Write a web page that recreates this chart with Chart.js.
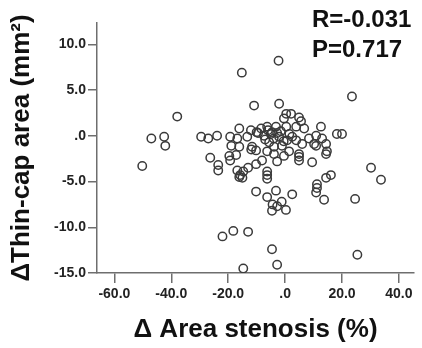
<!DOCTYPE html>
<html>
<head>
<meta charset="utf-8">
<script src="https://cdn.jsdelivr.net/npm/chart.js@4"></script>
<style>
  html, body { margin: 0; padding: 0; background: #fff; }
  #wrap { width: 422px; height: 348px; }
</style>
</head>
<body>
<div id="wrap"><canvas id="scatterChart" width="422" height="348"></canvas></div>
<script>
// Δ area stenosis (%) vs Δ thin-cap area (mm²)
const stenosisDelta = [
  -50.2, -47, -42.5, -42.1, -37.9, -29.5, -27.0, -26.3,
  -15.2, -2.3, 23.5, -10.9, -2.1,
  -23.9, -19.3, -16.1, -16.8, -18.9, -16.1, -13.3, -11.6, -8.4, -7.4, -6.3, -4.6, -3.2, -2.1,
  -0.4, 0.4, 0.4, -5.6, -3.9, -1.1, 0.7, -10.2, -6.3, 2.1, 4.9, 5.6, 3.9, 2.5, 6.7, 12.6,
  8.4, 10.9, 13.0, 14.4, 10.2, 18.2, 20.0, 14.7, 10.9, 6.0, 4.9, 1.4, 3.9,
  -9.5, -5.0, -1.5, -4.0, -7.0, 1.5, -2.8, -6.0, -0.5, -10.0, -12.0,
  -23.5, -23.5, -19.6, -17.2, -19.3, -16.8, -16.1, -14.7, -13.0, -10.2, -8.1, -6.3, -6.3,
  -11.9, -3.9, -2.8, -0.4, -15.0, -15.8, -6.3, 4.9, 14.4, 4.9, 9.5, 30.2, 33.7, 16.1, 14.4,
  11.2, 11.2, 10.9, 13.7, 24.6,
  -10.2, -6.3, -3.2, 2.5, -4.6, -4.4, -1.2, 0.3, -2.8,
  -22.0, -18.2, -13.0, -14.7, -4.6, -2.8, 25.4
];
const thinCapDelta = [
  -3.3, -0.3, -0.1, -1.1, 2.1, -0.1, -0.3, -2.4,
  6.9, 8.2, 4.3, 3.3, 3.5,
  0.0, -0.1, 0.8, -0.3, -1.1, -1.2, -0.1, -1.2, 0.8, 0.0, 1.0, 0.4, 1.0, -0.1,
  1.9, 2.4, 1.0, -0.7, -1.2, -1.1, -0.5, -1.6, -1.7, 2.4, 2.0, 1.6, 1.0, -0.1, 0.8, 1.0,
  -0.3, 0.0, -0.3, -0.9, -0.9, 0.2, 0.2, -1.7, -1.1, -0.9, -2.3, -1.7, -0.5,
  0.3, 0.2, 0.5, -0.3, -0.4, 0.2, 0.3, 0.6, -0.6, 0.4, 0.6,
  -3.2, -3.8, -2.2, -2.1, -2.7, -3.8, -4.5, -3.9, -3.5, -3.1, -2.7, -3.9, -4.7,
  -1.5, -2.0, -2.8, -2.2, -4.6, -4.3, -4.3, -2.0, -2.0, -2.7, -2.9, -3.5, -4.8, -4.3, -4.6,
  -5.3, -5.7, -6.2, -7.0, -6.9,
  -6.1, -6.7, -6.0, -6.4, -8.2, -7.5, -7.2, -8.1, -7.7,
  -11.0, -10.4, -10.5, -14.5, -12.4, -14.1, -13.0
];

const xTickValues = [-60, -40, -20, 0, 20, 40];
const xTickLabels = ["-60.0", "-40.0", "-20.0", ".0", "20.0", "40.0"];
const yTickValues = [-15, -10, -5, 0, 5, 10];
const yTickLabels = ["-15.0", "-10.0", "-5.0", ".0", "5.0", "10.0"];
const statLines = ["R=-0.031", "P=0.717"];

const points = stenosisDelta.map((x, i) => ({ x: x, y: thinCapDelta[i] }));

const axisColor = "#6e6e6e";
const tickFont = { family: "Liberation Sans, Arial, sans-serif", size: 14, weight: "bold" };
const titleFont = { family: "Liberation Sans, Arial, sans-serif", size: 26, weight: "bold" };

// R / P text in the top right corner
const statText = {
  id: "statText",
  afterDraw(chart) {
    const ctx = chart.ctx;
    ctx.save();
    ctx.fillStyle = "#111";
    ctx.font = "bold 24px Liberation Sans, Arial, sans-serif";
    ctx.textBaseline = "alphabetic";
    ctx.textAlign = "left";
    ctx.fillText(statLines[0], 312, 27);
    ctx.fillText(statLines[1], 312, 57);
    ctx.restore();
  }
};

const ctx = document.getElementById("scatterChart").getContext("2d");
new Chart(ctx, {
  type: "scatter",
  data: {
    datasets: [{
      data: points,
      pointStyle: "circle",
      pointRadius: 4.2,
      pointBorderWidth: 1.5,
      borderColor: "#3a3a3a",
      backgroundColor: "rgba(0,0,0,0)",
    }],
  },
  options: {
    responsive: false,
    animation: false,
    layout: { padding: { left: 0, right: 8, top: 23, bottom: 0 } },
    plugins: { legend: { display: false }, tooltip: { enabled: false } },
    scales: {
      x: {
        min: -66.1,
        max: 45.3,
        afterFit(scale) { scale.height = 75; },
        afterBuildTicks(scale) { scale.ticks = xTickValues.map(v => ({ value: v })); },
        ticks: {
          font: tickFont,
          color: "#222",
          padding: 3,
          maxRotation: 0,
          callback: function (value) {
            const i = xTickValues.indexOf(value);
            return i >= 0 ? xTickLabels[i] : "";
          },
        },
        grid: { drawOnChartArea: false, drawTicks: true, tickLength: 10, color: axisColor, lineWidth: 1.5 },
        border: { display: true, color: axisColor, width: 1.5 },
        title: { display: true, text: "Δ Area stenosis (%)", font: titleFont, color: "#111", padding: { top: 0, bottom: 3 } },
      },
      y: {
        min: -15,
        max: 12.33,
        afterFit(scale) { scale.width = 97; },
        afterBuildTicks(scale) { scale.ticks = yTickValues.map(v => ({ value: v })); },
        ticks: {
          font: tickFont,
          color: "#222",
          padding: 2,
          callback: function (value) {
            const i = yTickValues.indexOf(value);
            return i >= 0 ? yTickLabels[i] : "";
          },
        },
        grid: { drawOnChartArea: false, drawTicks: true, tickLength: 9, color: axisColor, lineWidth: 1.5 },
        border: { display: true, color: axisColor, width: 1.5 },
        title: { display: true, text: "ΔThin-cap area (mm²)", font: titleFont, color: "#111", padding: { top: 6, bottom: 0 } },
      },
    },
  },
  plugins: [statText],
});
</script>
</body>
</html>
